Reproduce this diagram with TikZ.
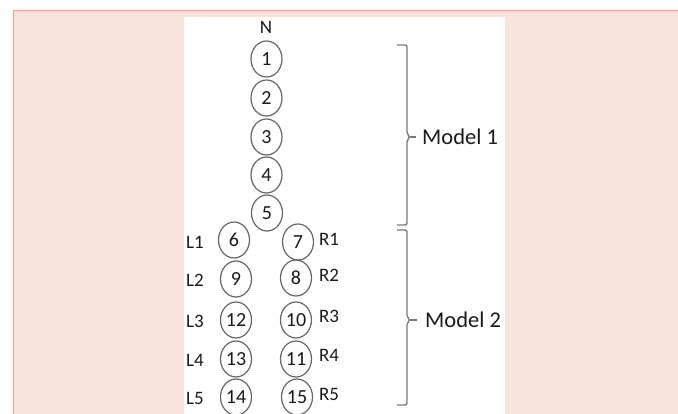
\documentclass[tikz,border=0pt]{standalone}
\usepackage{fontspec}
\setmainfont{Carlito}
\usetikzlibrary{shapes.geometric}
\definecolor{pinkbg}{HTML}{F7E4DB}
\definecolor{pinkedge}{HTML}{F0A48C}
\definecolor{ringgray}{HTML}{666666}
\definecolor{brkgray}{HTML}{7A7A7A}
\definecolor{txt}{HTML}{1A1A1A}
\tikzset{
  num/.style={ellipse, draw=ringgray, line width=1.2pt, minimum width=31pt, minimum height=36pt, inner sep=0pt, text=txt, font=\fontsize{20}{22}\selectfont},
  lbl/.style={inner sep=0pt, text=txt, font=\fontsize{19}{21}\selectfont},
  mdl/.style={inner sep=0pt, anchor=west, text=txt, font=\fontsize{22.5}{25}\selectfont},
  brk/.style={draw=brkgray, line width=1.4pt, rounded corners=2pt}
}
\begin{document}
\begin{tikzpicture}[x=1pt,y=-1pt]
\useasboundingbox (0,0) rectangle (678,414);
\fill[white] (0,0) rectangle (678,414);
\fill[pinkbg] (13.5,10.5) rectangle (678,414);
\draw[pinkedge, line width=1.2pt] (13.5,414) -- (13.5,10.5) -- (678,10.5);
\fill[white] (184,17) rectangle (505,414);

\node[lbl] (N) at (266,27) {N};
\node[num] (n1) at (266.5,59) {1};
\node[num] (n2) at (266.5,98) {2};
\node[num] (n3) at (266.5,137) {3};
\node[num] (n4) at (266.5,175) {4};
\node[num] (n5) at (267,213) {5};

\node[num] (n6) at (234,240) {6};
\node[num] (n7) at (298,242) {7};
\node[num] (n9) at (236,279) {9};
\node[num] (n8) at (296,278) {8};
\node[num] (n12) at (236,320) {12};
\node[num] (n10) at (296,320) {10};
\node[num] (n13) at (236,359) {13};
\node[num] (n11) at (296,359) {11};
\node[num] (n14) at (236,397) {14};
\node[num] (n15) at (297,397) {15};

\node[lbl] (L1) at (195,242) {L1};
\node[lbl] (L2) at (195,280) {L2};
\node[lbl] (L3) at (195,321) {L3};
\node[lbl] (L4) at (195,360) {L4};
\node[lbl] (L5) at (195,398) {L5};
\node[lbl] (R1) at (329,239) {R1};
\node[lbl] (R2) at (329,275) {R2};
\node[lbl] (R3) at (329,316) {R3};
\node[lbl] (R4) at (329,355) {R4};
\node[lbl] (R5) at (329,394) {R5};

\draw[brk] (397,45) -- (407,45) -- (407,134) -- (410,137) -- (407,140) -- (407,225) -- (397,225);
\draw[brkgray, line width=1.4pt] (409.5,137) -- (416,137);
\node[mdl] (m1) at (422,137) {Model 1};

\draw[brk] (397,230) -- (407,230) -- (407,317) -- (410,320) -- (407,323) -- (407,405) -- (397,405);
\draw[brkgray, line width=1.4pt] (409.5,320) -- (417,320);
\node[mdl] (m2) at (425,320) {Model 2};
\end{tikzpicture}
\end{document}
